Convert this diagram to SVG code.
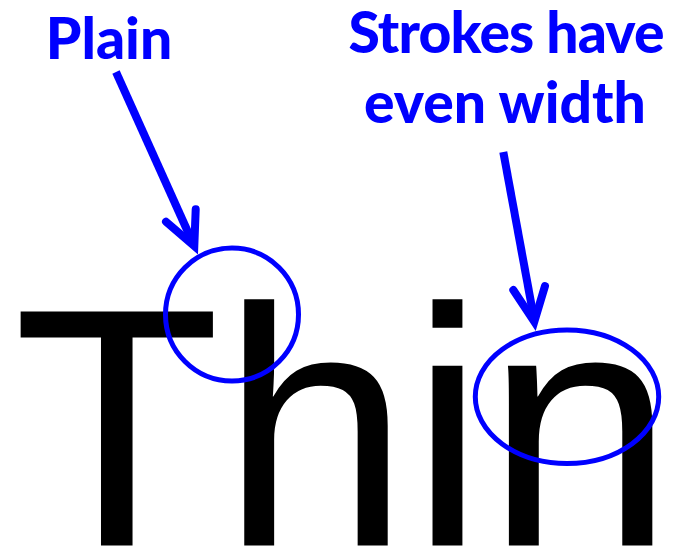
<svg xmlns="http://www.w3.org/2000/svg" width="675" height="548" viewBox="0 0 675 548">
  <style>
    .big { font-family: "Liberation Sans", Arial, sans-serif; font-size: 340px; fill: #000; }
    .label { font-family: Lato, "Open Sans", sans-serif; font-weight: 900; font-size: 57px; fill: #0000ff; text-anchor: middle; }
    .mark { fill: none; stroke: #0000ff; stroke-width: 5; }
    .shaft { fill: none; stroke: #0000ff; stroke-width: 8; stroke-linecap: butt; }
    .head { fill: none; stroke: #0000ff; stroke-width: 8; stroke-linecap: round; stroke-linejoin: miter; stroke-miterlimit: 10; }
  </style>
  <rect width="675" height="548" fill="#fff"/>
  <g id="sample-text">
    <text class="big" x="13" y="545.5">Thin</text>
  </g>
  <g id="label-plain">
    <text class="label" x="109" y="59">Plain</text>
  </g>
  <g id="label-strokes">
    <text class="label" x="506.5" y="53" textLength="316" lengthAdjust="spacing">Strokes have</text>
    <text class="label" x="505" y="123">even width</text>
  </g>
  <g id="highlight-plain">
    <circle class="mark" cx="232" cy="314.5" r="66.5"/>
  </g>
  <g id="highlight-strokes">
    <ellipse class="mark" cx="567" cy="396.7" rx="91.7" ry="66.8"/>
  </g>
  <g id="connectors">
    <line class="shaft" x1="116" y1="72" x2="192" y2="241"/>
    <path class="head" d="M166,221.7 L194.3,246 L195.7,209.3"/>
    <line class="shaft" x1="503.3" y1="152" x2="533.5" y2="316"/>
    <path class="head" d="M513.3,290 L534.3,321.7 L545,286"/>
  </g>
</svg>
